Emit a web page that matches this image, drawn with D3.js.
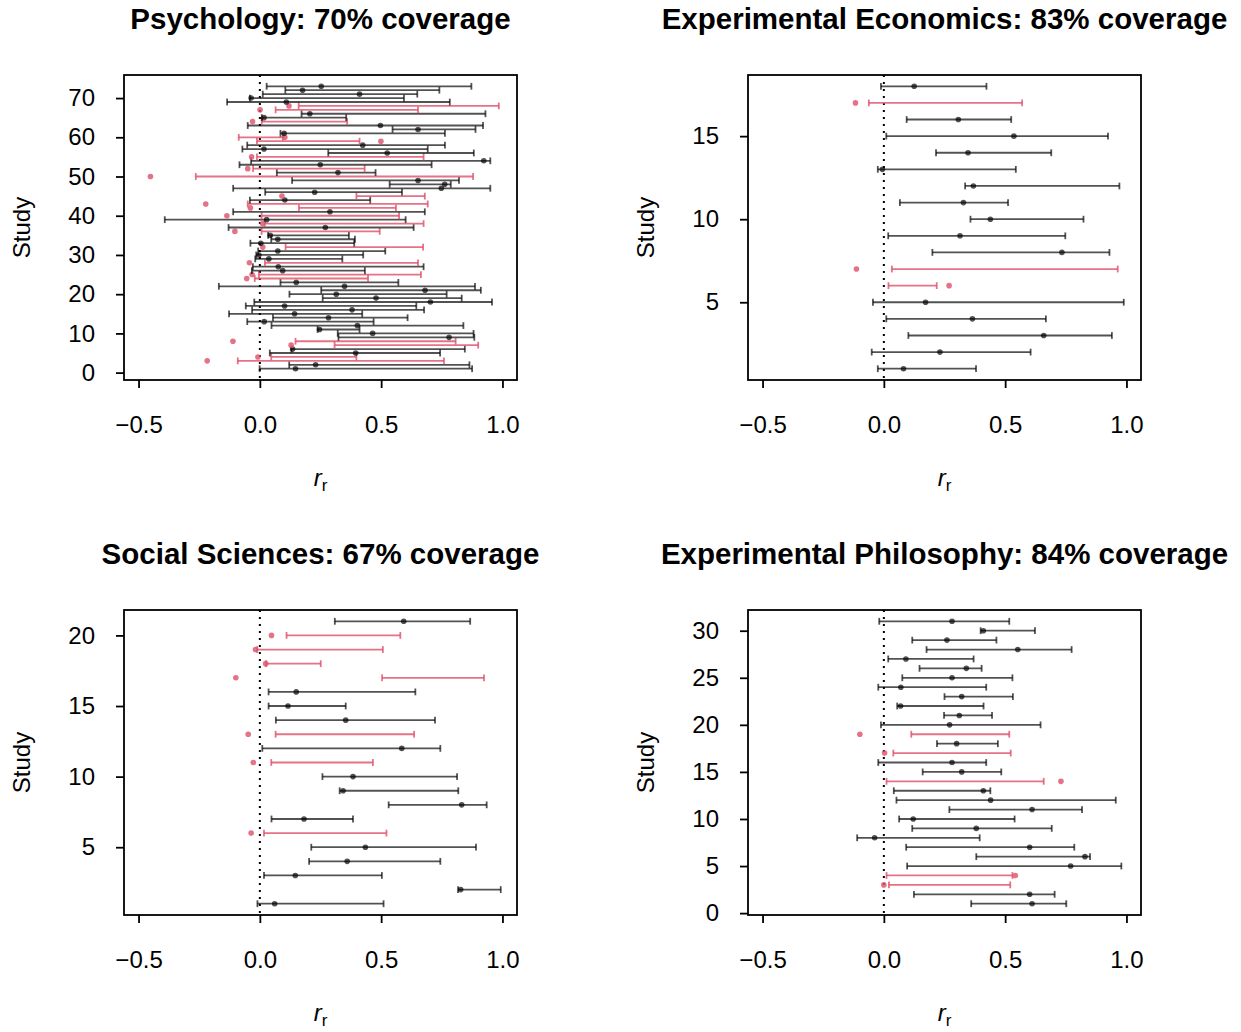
<!DOCTYPE html>
<meta charset="utf-8">
<style>
body { margin: 0; background: #fff; }
svg { display: block; font-family: "Liberation Sans", Arial, Helvetica, sans-serif; }
.title { font-weight: bold; font-size: 29.5px; }
.tick text { font-size: 24px; }
</style>
<body>
<script src="https://cdn.jsdelivr.net/npm/d3@7"></script>
<script>

// Psychology, studies 1..73: replication estimate, interval low, interval high
var psyEst = [0.147, 0.230, -0.217, -0.008, 0.395, 0.135, 0.129, -0.111, 0.780, 0.465,
  0.246, 0.402, 0.018, 0.283, 0.143, 0.380, 0.102, 0.703, 0.479, 0.315,
  0.681, 0.349, 0.150, -0.054, -0.032, 0.094, 0.076, -0.043, 0.037, -0.004,
  0.074, 0.012, 0.004, 0.074, 0.043, -0.103, 0.270, 0.011, 0.028, -0.136,
  0.289, -0.039, -0.223, 0.103, 0.091, 0.226, 0.748, 0.762, 0.652, -0.451,
  0.322, -0.050, 0.249, 0.923, -0.034, 0.525, 0.017, 0.424, 0.499, 0.103,
  0.100, 0.652, 0.497, -0.030, 0.017, 0.206, 0.001, 0.120, 0.109, -0.036,
  0.411, 0.176, 0.253];
var psyLo = [-0.001, 0.121, -0.091, 0.047, 0.041, 0.130, 0.308, 0.147, 0.324, 0.321,
  0.238, 0.048, -0.052, 0.054, -0.127, -0.032, -0.058, -0.023, 0.259, 0.122,
  0.253, -0.169, 0.085, -0.021, -0.004, -0.033, -0.029, 0.021, -0.019, -0.015,
  -0.007, 0.106, -0.039, 0.047, 0.034, 0.007, -0.129, 0.020, -0.392, 0.007,
  -0.110, 0.161, -0.050, -0.041, 0.398, 0.022, -0.110, 0.535, 0.133, -0.264,
  0.070, -0.028, -0.084, -0.036, -0.012, 0.282, -0.072, -0.052, -0.012, -0.087,
  0.085, 0.547, -0.050, 0.008, 0.008, 0.172, 0.065, 0.160, -0.135, -0.041,
  0.012, 0.105, 0.028];
var psyHi = [0.875, 0.864, 0.759, 0.398, 0.743, 0.845, 0.900, 0.807, 0.884, 0.881,
  0.411, 0.839, 0.469, 0.609, 0.422, 0.677, 0.645, 0.957, 0.832, 0.770,
  0.911, 0.887, 0.571, 0.446, 0.664, 0.433, 0.675, 0.652, 0.340, 0.426,
  0.517, 0.673, 0.389, 0.392, 0.367, 0.494, 0.634, 0.675, 0.601, 0.574,
  0.680, 0.561, 0.692, 0.455, 0.680, 0.586, 0.950, 0.787, 0.821, 0.879,
  0.477, 0.432, 0.708, 0.950, 0.675, 0.882, 0.692, 0.763, 0.411, 0.095,
  0.763, 0.889, 0.920, 0.360, 0.356, 0.930, 0.652, 0.985, 0.783, 0.594,
  0.649, 0.740, 0.872];

// Experimental Economics, studies 1..18
var econEst = [0.081, 0.231, 0.659, 0.365, 0.172, 0.269, -0.113, 0.734, 0.314, 0.439,
  0.328, 0.369, -0.006, 0.347, 0.536, 0.307, -0.117, 0.125];
var econLo = [-0.025, -0.050, 0.101, 0.010, -0.045, 0.019, 0.033, 0.200, 0.018, 0.357,
  0.066, 0.335, -0.025, 0.215, 0.010, 0.094, -0.062, -0.012];
var econHi = [0.380, 0.605, 0.940, 0.668, 0.989, 0.218, 0.964, 0.930, 0.748, 0.823,
  0.512, 0.971, 0.544, 0.690, 0.924, 0.525, 0.570, 0.423];

// Social Sciences, studies 1..21
var socEst = [0.061, 0.828, 0.146, 0.360, 0.435, -0.036, 0.182, 0.832, 0.343, 0.384,
  -0.027, 0.585, -0.048, 0.354, 0.116, 0.150, -0.099, 0.024, -0.018, 0.048, 0.593];
var socLo = [-0.010, 0.817, 0.017, 0.203, 0.212, 0.017, 0.048, 0.531, 0.329, 0.258,
  0.047, 0.010, 0.065, 0.066, 0.036, 0.036, 0.504, 0.026, -0.011, 0.110, 0.309];
var socHi = [0.510, 0.993, 0.503, 0.744, 0.891, 0.522, 0.384, 0.935, 0.818, 0.813,
  0.466, 0.744, 0.636, 0.722, 0.354, 0.641, 0.924, 0.251, 0.507, 0.579, 0.867];

// Experimental Philosophy, studies 1..31
var philEst = [0.611, 0.601, 0.000, 0.542, 0.770, 0.829, 0.601, -0.038, 0.381, 0.121,
  0.611, 0.440, 0.410, 0.730, 0.321, 0.281, 0.003, 0.300, -0.099, 0.271,
  0.311, 0.069, 0.321, 0.070, 0.281, 0.340, 0.091, 0.552, 0.260, 0.410, 0.281];
var philLo = [0.360, 0.124, 0.021, 0.011, 0.096, 0.381, 0.092, -0.110, 0.117, 0.063,
  0.270, 0.052, 0.041, 0.011, 0.160, -0.023, 0.039, 0.219, 0.113, -0.012,
  0.248, 0.055, 0.250, -0.023, 0.076, 0.147, 0.018, 0.176, 0.117, 0.399, -0.019];
var philHi = [0.752, 0.704, 0.521, 0.530, 0.979, 0.850, 0.785, 0.395, 0.692, 0.539,
  0.817, 0.956, 0.439, 0.659, 0.484, 0.422, 0.523, 0.470, 0.517, 0.646,
  0.446, 0.411, 0.532, 0.422, 0.530, 0.403, 0.370, 0.774, 0.464, 0.623, 0.517];

var titles = ["Psychology: 70% coverage", "Experimental Economics: 83% coverage",
  "Social Sciences: 67% coverage", "Experimental Philosophy: 84% coverage"];
var xTicks = [-0.5, 0, 0.5, 1];
var psyTicks = [0, 10, 20, 30, 40, 50, 60, 70];
var econTicks = [5, 10, 15];
var socTicks = [5, 10, 15, 20];
var philTicks = [0, 5, 10, 15, 20, 25, 30];

var panels = [
  { est: psyEst, lo: psyLo, hi: psyHi, ticks: psyTicks },
  { est: econEst, lo: econLo, hi: econHi, ticks: econTicks },
  { est: socEst, lo: socLo, hi: socHi, ticks: socTicks },
  { est: philEst, lo: philLo, hi: philHi, ticks: philTicks }
];

var black = "rgba(0,0,0,0.68)",
    red = "rgba(223,83,107,0.82)";

var plotW = 393, plotH = 305;

var svg = d3.select("body").append("svg")
  .attr("width", 1241)
  .attr("height", 1032);

var fmt = function(d) { return d === 0 ? "0.0" : (d < 0 ? "\u2212" : "") + Math.abs(d).toFixed(1); };

panels.forEach(function(p, k) {
  var left = 124 + (k % 2) * 624,
      top = 75 + Math.floor(k / 2) * 535;
  var n = p.est.length;
  var pad = 0.04 * (n - 1);

  var x = d3.scaleLinear().domain([-0.56, 1.06]).range([0, plotW]);
  var y = d3.scaleLinear().domain([1 - pad, n + pad]).range([plotH, 0]);

  var g = svg.append("g").attr("transform", "translate(" + left + "," + top + ")");

  var rows = d3.range(n).map(function(i) {
    var out = p.est[i] < p.lo[i] || p.est[i] > p.hi[i];
    return { s: i + 1, est: p.est[i], lo: p.lo[i], hi: p.hi[i], col: out ? red : black };
  });

  // reference line at zero
  g.append("line")
    .attr("x1", x(0)).attr("x2", x(0))
    .attr("y1", 0).attr("y2", plotH)
    .attr("stroke", "#000")
    .attr("stroke-width", 2)
    .attr("stroke-dasharray", "2,5");

  var bar = g.selectAll("g.bar").data(rows).enter().append("g").attr("class", "bar");

  bar.append("line")
    .attr("x1", function(d) { return x(d.lo); })
    .attr("x2", function(d) { return x(d.hi); })
    .attr("y1", function(d) { return y(d.s); })
    .attr("y2", function(d) { return y(d.s); })
    .attr("stroke", function(d) { return d.col; })
    .attr("stroke-width", 1.8);

  ["lo", "hi"].forEach(function(e) {
    bar.append("line")
      .attr("x1", function(d) { return x(d[e]); })
      .attr("x2", function(d) { return x(d[e]); })
      .attr("y1", function(d) { return y(d.s) - 3.4; })
      .attr("y2", function(d) { return y(d.s) + 3.4; })
      .attr("stroke", function(d) { return d.col; })
      .attr("stroke-width", 1.8);
  });

  bar.append("circle")
    .attr("cx", function(d) { return x(d.est); })
    .attr("cy", function(d) { return y(d.s); })
    .attr("r", 2.8)
    .attr("fill", function(d) { return d.col; });

  // box
  g.append("rect")
    .attr("width", plotW).attr("height", plotH)
    .attr("fill", "none").attr("stroke", "#000").attr("stroke-width", 1.8);

  var xAxis = g.append("g")
    .attr("transform", "translate(0," + plotH + ")")
    .call(d3.axisBottom(x).tickValues(xTicks).tickFormat(fmt).tickSize(8).tickPadding(28));
  var yAxis = g.append("g")
    .call(d3.axisLeft(y).tickValues(p.ticks).tickSize(8).tickPadding(21));
  [xAxis, yAxis].forEach(function(a) {
    a.select(".domain").remove();
    a.selectAll(".tick line").attr("stroke", "#000").attr("stroke-width", 1.8);
    a.selectAll(".tick text").attr("fill", "#000").style("font-family", "inherit");
  });

  g.append("text")
    .attr("class", "title")
    .attr("x", plotW / 2)
    .attr("y", -46)
    .attr("text-anchor", "middle")
    .text(titles[k]);

  g.append("text")
    .attr("transform", "translate(-94," + (plotH / 2) + ") rotate(-90)")
    .attr("text-anchor", "middle")
    .style("font-size", "24px")
    .text("Study");

  var xl = g.append("text")
    .attr("x", plotW / 2)
    .attr("y", plotH + 106)
    .attr("text-anchor", "middle")
    .style("font-size", "24px");
  xl.append("tspan").style("font-style", "italic").text("r");
  xl.append("tspan").attr("dy", 5).style("font-size", "17px").text("r");
});

</script>
</body>
